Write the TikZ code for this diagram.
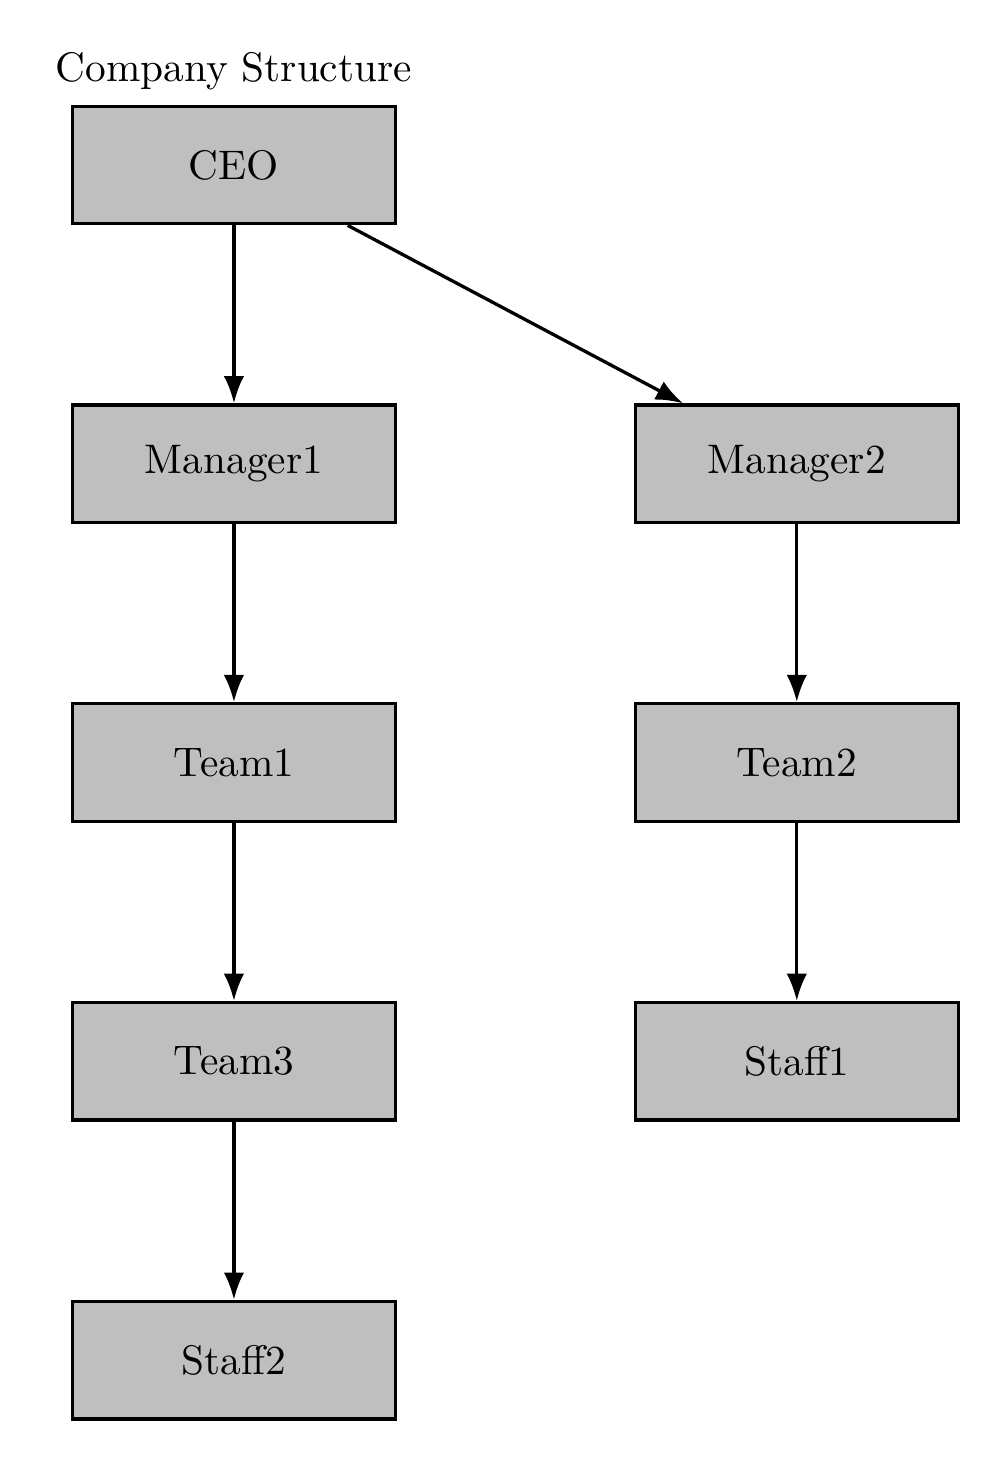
\documentclass[tikz,border=0pt]{standalone}
\usetikzlibrary{arrows.meta,positioning}

\begin{document}
\begin{tikzpicture}[
        box/.style={rectangle, draw, thick, fill=lightgray, minimum width=2.75cm, minimum height=1cm},
        link/.style={-{Latex}, thick}
    ]
        % Fix the margins of the picture
        \useasboundingbox (-1.991,1.404) rectangle (6.536,-11.047);

        % Define the positions of the boxes in two columns
        \foreach \name/\x/\y/\txt in {ceo/0/0/CEO, manager1/0/-2.543/Manager1, manager2/4.79/-2.543/Manager2,
                team1/0/-5.086/Team1, team2/4.79/-5.086/Team2, team3/0/-7.629/Team3,
                staff1/4.79/-7.629/Staff1, staff2/0/-10.172/Staff2} {
            \node[box] (\name) at (\x,\y) {\txt};
        }

        % Title above the top box
        \node[above=0pt of ceo] (title) {Company Structure};

        % Connect the boxes
        \foreach \i/\j in {ceo/manager1, ceo/manager2, manager1/team1, manager2/team2, team1/team3, team2/staff1, team3/staff2} {
            \draw[link] (\i) -- (\j);
            }
    \end{tikzpicture}
\end{document}
